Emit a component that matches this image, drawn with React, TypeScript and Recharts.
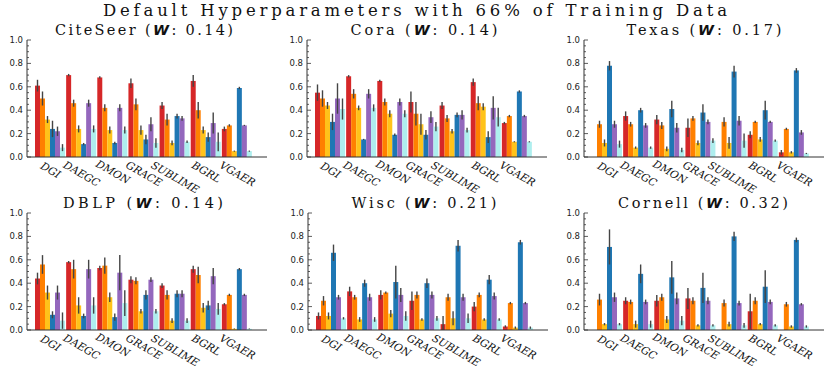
import { BarChart, Bar, XAxis, YAxis, ErrorBar } from 'recharts';

const METHODS = ['DGI', 'DAEGC', 'DMON', 'GRACE', 'SUBLIME', 'BGRL', 'VGAER'];
const SERIES_COLORS = ['#d62728', '#ff8000', '#ffc31a', '#1f77b4', '#9467bd', '#aeeeee'];
const DATASETS = ['CiteSeer', 'Cora', 'Texas', 'DBLP', 'Wisc', 'Cornell'];
const W_SCORES = ['0.14', '0.14', '0.17', '0.14', '0.21', '0.32'];
const Y_TICKS = [0, 0.05, 0.1, 0.15, 0.2, 0.25, 0.3, 0.35, 0.4, 0.45, 0.5, 0.55, 0.6, 0.65, 0.7, 0.75, 0.8, 0.85, 0.9, 0.95, 1];
const TOP_TICKS = Array.from({ length: 49 }, (_, i) => i);

// rows = methods, columns = the six bars of each group
const citeseerMean = [
  [0.61, 0.5, 0.32, 0.24, 0.22, 0.08],
  [0.7, 0.46, 0.24, 0.11, 0.46, 0.24],
  [0.68, 0.42, 0.23, 0.12, 0.42, 0.23],
  [0.63, 0.45, 0.23, 0.15, 0.28, 0.12],
  [0.44, 0.32, 0.12, 0.35, 0.33, 0.13],
  [0.65, 0.4, 0.23, 0.17, 0.29, 0.13],
  [0.24, 0.27, 0.05, 0.59, 0.27, 0.05],
];
const citeseerErr = [
  [0.05, 0.06, 0.03, 0.07, 0.04, 0.03],
  [0.01, 0.03, 0.03, 0.01, 0.03, 0.03],
  [0.01, 0.03, 0.03, 0.01, 0.03, 0.03],
  [0.04, 0.05, 0.04, 0.04, 0.06, 0.04],
  [0.03, 0.05, 0.02, 0.02, 0.02, 0.01],
  [0.05, 0.07, 0.03, 0.04, 0.09, 0.08],
  [0.02, 0.01, 0.005, 0.01, 0.005, 0.005],
];
const coraMean = [
  [0.55, 0.5, 0.44, 0.3, 0.5, 0.41],
  [0.69, 0.54, 0.42, 0.15, 0.54, 0.42],
  [0.65, 0.47, 0.37, 0.19, 0.47, 0.37],
  [0.47, 0.37, 0.28, 0.19, 0.34, 0.26],
  [0.44, 0.33, 0.22, 0.36, 0.36, 0.23],
  [0.64, 0.46, 0.43, 0.17, 0.42, 0.34],
  [0.29, 0.35, 0.13, 0.56, 0.35, 0.13],
];
const coraErr = [
  [0.07, 0.07, 0.03, 0.07, 0.13, 0.09],
  [0.01, 0.04, 0.02, 0.005, 0.04, 0.03],
  [0.01, 0.03, 0.03, 0.01, 0.03, 0.03],
  [0.09, 0.1, 0.09, 0.04, 0.05, 0.04],
  [0.03, 0.03, 0.02, 0.02, 0.04, 0.02],
  [0.03, 0.06, 0.03, 0.05, 0.1, 0.08],
  [0.01, 0.01, 0.005, 0.01, 0.01, 0.005],
];
const texasMean = [
  [0, 0.28, 0.12, 0.78, 0.28, 0.11],
  [0.35, 0.28, 0.08, 0.4, 0.27, 0.08],
  [0.32, 0.27, 0.07, 0.41, 0.25, 0.06],
  [0.25, 0.33, 0.12, 0.38, 0.3, 0.14],
  [0, 0.3, 0.12, 0.73, 0.31, 0.14],
  [0.19, 0.3, 0.15, 0.4, 0.3, 0.14],
  [0.04, 0.24, 0.04, 0.74, 0.21, 0.03],
];
const texasErr = [
  [0, 0.03, 0.03, 0.04, 0.03, 0.03],
  [0.04, 0.02, 0.01, 0.02, 0.02, 0.01],
  [0.04, 0.03, 0.02, 0.07, 0.04, 0.02],
  [0.08, 0.02, 0.02, 0.07, 0.02, 0.02],
  [0.02, 0.04, 0.05, 0.05, 0.04, 0.06],
  [0.03, 0.01, 0.02, 0.08, 0.01, 0.01],
  [0.02, 0.01, 0.01, 0.02, 0.02, 0.005],
];
const dblpMean = [
  [0.44, 0.56, 0.32, 0.13, 0.32, 0.08],
  [0.58, 0.52, 0.21, 0.12, 0.52, 0.21],
  [0.53, 0.55, 0.28, 0.11, 0.49, 0.23],
  [0.43, 0.42, 0.16, 0.3, 0.43, 0.16],
  [0.38, 0.3, 0.08, 0.31, 0.31, 0.08],
  [0.52, 0.47, 0.19, 0.21, 0.46, 0.18],
  [0.22, 0.3, 0.01, 0.52, 0.3, 0.01],
];
const dblpErr = [
  [0.05, 0.08, 0.06, 0.03, 0.06, 0.07],
  [0.01, 0.08, 0.07, 0.02, 0.08, 0.07],
  [0.02, 0.07, 0.04, 0.03, 0.15, 0.11],
  [0.03, 0.03, 0.02, 0.04, 0.02, 0.02],
  [0.02, 0.04, 0.02, 0.03, 0.03, 0.02],
  [0.03, 0.07, 0.04, 0.04, 0.07, 0.05],
  [0.01, 0.01, 0.003, 0.01, 0.01, 0.003],
];
const wiscMean = [
  [0.12, 0.25, 0.12, 0.66, 0.28, 0.1],
  [0.33, 0.28, 0.09, 0.4, 0.28, 0.09],
  [0.3, 0.32, 0.14, 0.41, 0.3, 0.12],
  [0.25, 0.3, 0.09, 0.4, 0.3, 0.1],
  [0.05, 0.28, 0.1, 0.72, 0.28, 0.1],
  [0.2, 0.3, 0.09, 0.43, 0.29, 0.09],
  [0.03, 0.23, 0.02, 0.75, 0.23, 0.02],
];
const wiscErr = [
  [0.03, 0.04, 0.03, 0.07, 0.02, 0.01],
  [0.04, 0.02, 0.02, 0.03, 0.03, 0.02],
  [0.04, 0.01, 0.03, 0.14, 0.06, 0.04],
  [0.08, 0.03, 0.01, 0.04, 0.03, 0.02],
  [0.07, 0.03, 0.06, 0.05, 0.03, 0.04],
  [0.04, 0.02, 0.01, 0.04, 0.03, 0.01],
  [0.01, 0.01, 0.01, 0.02, 0.01, 0.01],
];
const cornellMean = [
  [0, 0.26, 0.05, 0.71, 0.28, 0.05],
  [0.25, 0.24, 0.05, 0.48, 0.24, 0.05],
  [0.25, 0.28, 0.09, 0.45, 0.27, 0.08],
  [0.27, 0.25, 0.04, 0.36, 0.25, 0.04],
  [0, 0.23, 0.05, 0.8, 0.23, 0.04],
  [0.16, 0.25, 0.05, 0.37, 0.24, 0.04],
  [0, 0.22, 0.03, 0.77, 0.22, 0.03],
];
const cornellErr = [
  [0.06, 0.05, 0.01, 0.15, 0.04, 0.01],
  [0.03, 0.02, 0.03, 0.08, 0.02, 0.03],
  [0.05, 0.03, 0.03, 0.14, 0.05, 0.04],
  [0.09, 0.03, 0.01, 0.13, 0.03, 0.01],
  [0.02, 0.03, 0.02, 0.04, 0.02, 0.02],
  [0.15, 0.03, 0.01, 0.14, 0.02, 0.01],
  [0, 0.02, 0.01, 0.02, 0.01, 0.01],
];

const MEANS = [citeseerMean, coraMean, texasMean, dblpMean, wiscMean, cornellMean];
const ERRS = [citeseerErr, coraErr, texasErr, dblpErr, wiscErr, cornellErr];

const PLOT_W = 240;
const PLOT_H = 117;
const AXIS_W = 27;
// plot-area top-left corner of each panel on the page
const PANEL_POS = [
  [27, 40], [307, 40], [584, 40],
  [27, 213], [308, 213], [584, 213],
];
const TITLE_POS = [
  [144, 35, 178], [424, 35, 147], [704, 35, 155],
  [143, 208, 160], [424, 208, 145], [703, 208, 170],
];

const FRAME = '#333';
const SERIF = '"DejaVu Serif", serif';
const ANGLE = (30 * Math.PI) / 180;
const COS = Math.cos(ANGLE);
const SIN = Math.sin(ANGLE);

function isMajor(v: number) {
  return Math.abs(v * 5 - Math.round(v * 5)) < 1e-6;
}

function LeftTick(props: any) {
  const { x, y, payload } = props;
  const v = payload.value;
  const major = isMajor(v);
  return (
    <g>
      <line x1={x} x2={x + (major ? 4 : 2)} y1={y} y2={y} stroke={FRAME} strokeWidth={0.8} />
      {major && (
        <text x={x - 4} y={y} textAnchor="end" dominantBaseline="central" fontFamily='"DejaVu Sans", sans-serif' fontSize={8.5} fill="#222">
          {v.toFixed(1)}
        </text>
      )}
    </g>
  );
}

function RightTick(props: any) {
  const { x, y, payload } = props;
  const major = isMajor(payload.value);
  return <line x1={x} x2={x - (major ? 4 : 2)} y1={y} y2={y} stroke={FRAME} strokeWidth={0.8} />;
}

function TopTick(props: any) {
  const { x, y } = props;
  return <line x1={x} x2={x} y1={y} y2={y + 2.5} stroke={FRAME} strokeWidth={0.8} />;
}

function MethodTick(props: any) {
  const { x, y, payload } = props;
  const t = String(payload.value);
  const w = t.length * 7.2;
  const h = w * SIN + 9 * COS;
  const cx = x;
  const cy = y + 4 + h / 2;
  return (
    <g transform={`matrix(${COS} ${SIN} ${-SIN} ${COS} ${cx} ${cy})`}>
      <text x={0} y={3.5} textAnchor="middle" fontFamily={SERIF} fontStyle="italic" fontSize={10.5} fill="#111">
        {t}
      </text>
    </g>
  );
}

function Panel({ idx }: { idx: number }) {
  const [left, top] = PANEL_POS[idx];
  const rows = METHODS.map((m, i) => {
    const r: Record<string, any> = { method: m };
    MEANS[idx][i].forEach((v, j) => {
      const e = ERRS[idx][i][j];
      r['s' + j] = v;
      r['e' + j] = [Math.min(e, v), e];
    });
    return r;
  });

  return (
    <div style={{ position: 'absolute', left: left - AXIS_W, top: top - 5 }}>
      <BarChart
        width={AXIS_W + PLOT_W + 5}
        height={5 + PLOT_H + 45}
        data={rows}
        margin={{ top: 5, right: 5, left: 0, bottom: 0 }}
        barCategoryGap={0}
        barGap={0}
      >
        <XAxis
          dataKey="method"
          interval={0}
          height={45}
          padding={{ left: 8, right: 14 }}
          tickLine={false}
          tickSize={0}
          tickMargin={0}
          axisLine={{ stroke: FRAME }}
          tick={(p: any) => <MethodTick {...p} />}
        />
        <XAxis
          xAxisId="t"
          orientation="top"
          type="number"
          domain={[0, 48]}
          ticks={TOP_TICKS}
          interval={0}
          height={0}
          tickLine={false}
          tickSize={0}
          tickMargin={0}
          axisLine={{ stroke: FRAME }}
          tick={<TopTick />}
        />
        <YAxis
          domain={[0, 1]}
          ticks={Y_TICKS}
          interval={0}
          width={AXIS_W}
          allowDataOverflow
          tickLine={false}
          tickSize={0}
          tickMargin={0}
          axisLine={{ stroke: FRAME }}
          tick={<LeftTick />}
        />
        <YAxis
          yAxisId="r"
          orientation="right"
          domain={[0, 1]}
          ticks={Y_TICKS}
          interval={0}
          width={0}
          tickLine={false}
          tickSize={0}
          tickMargin={0}
          axisLine={{ stroke: FRAME }}
          tick={<RightTick />}
        />
        {SERIES_COLORS.map((c, j) => (
          <Bar key={j} dataKey={'s' + j} fill={c} isAnimationActive={false}>
            <ErrorBar dataKey={'e' + j} width={0} stroke="#444" strokeWidth={1.4} />
          </Bar>
        ))}
      </BarChart>
    </div>
  );
}

export default function App() {
  return (
    <div style={{ position: 'absolute', left: 0, top: 0, width: 830, height: 368, background: '#fff', overflow: 'hidden' }}>
      {DATASETS.map((_, i) => (
        <Panel key={i} idx={i} />
      ))}
      <svg width={830} height={368} style={{ position: 'absolute', left: 0, top: 0, pointerEvents: 'none' }}>
        <text x={415} y={16} textAnchor="middle" fontFamily={SERIF} fontSize={16.5} fill="#111" textLength={624} lengthAdjust="spacing">
          Default Hyperparameters with 66% of Training Data
        </text>
        {DATASETS.map((d, i) => {
          const [cx, by, tw] = TITLE_POS[i];
          return (
            <text key={d} x={cx} y={by} textAnchor="middle" fontFamily={SERIF} fontSize={14.5} fill="#111" textLength={tw} lengthAdjust="spacing">
              {d + ' ('}
              <tspan fontFamily='"DejaVu Sans", sans-serif' fontWeight="bold" fontStyle="italic">W</tspan>
              {': ' + W_SCORES[i] + ')'}
            </text>
          );
        })}
      </svg>
    </div>
  );
}
